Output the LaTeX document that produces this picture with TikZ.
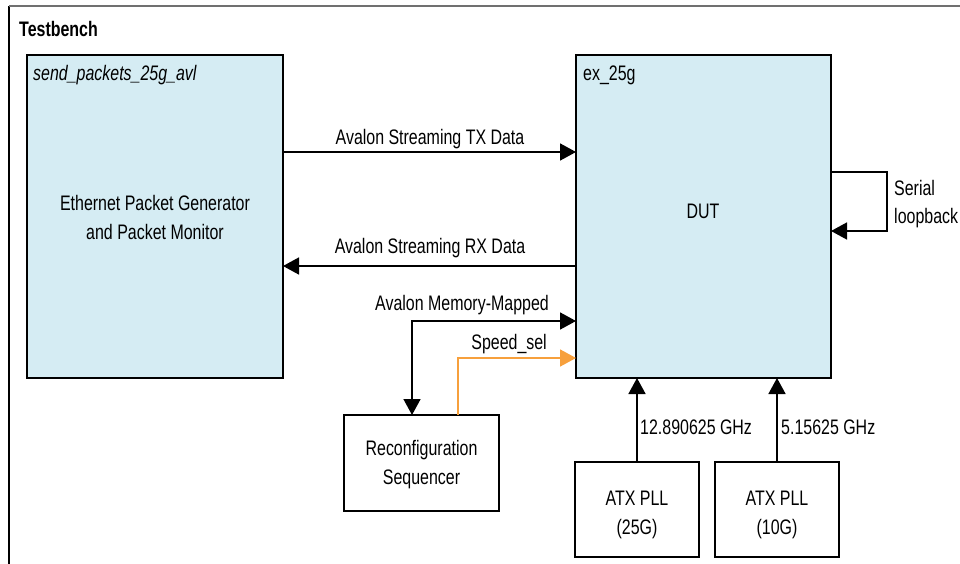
\documentclass[tikz,border=0pt]{standalone}
\usepackage{fontspec}
\setmainfont{Liberation Sans}[FakeStretch=0.76]
\usetikzlibrary{arrows.meta}
\definecolor{boxfill}{HTML}{D5ECF3}
\definecolor{selorange}{HTML}{F7A03C}
\definecolor{framegray}{HTML}{707070}
\newcommand\diafont{\fontsize{21}{29}\selectfont}
\begin{document}
\begin{tikzpicture}[x=1pt,y=-1pt,
 blockbox/.style={draw=black, line width=1.5pt, fill=boxfill, outer sep=0pt, inner sep=0pt, anchor=north west},
 plainbox/.style={draw=black, line width=1.3pt, fill=white, outer sep=0pt, inner sep=0pt, anchor=north west, align=center, font=\diafont},
 arr/.style={line width=1.6pt, -{Triangle[length=16pt,width=17pt]}},
 lbl/.style={font=\diafont, inner sep=0pt}
]
\useasboundingbox (0,0) rectangle (960,564);
% outer testbench frame
\coordinate (fbl) at (9,564);
\coordinate (ftl) at (9,6);
\coordinate (ftr) at (960,6);
\draw[line width=1.5pt, black] (fbl) -- (ftl);
\draw[line width=1.5pt, framegray] (ftl) -- (ftr);
\node[lbl, anchor=west, font=\bfseries\diafont] (tb) at (19,29) {Testbench};

% generator box
\node[blockbox, minimum width=256pt, minimum height=323pt] (gen) at (27,55) {};
\node[lbl, anchor=west, font=\itshape\diafont] (genname) at (33,75) {send\_packets\_25g\_avl};
\node[lbl, align=center] (gentext) at (155,217) {Ethernet Packet Generator\\and Packet Monitor};

% DUT box
\node[blockbox, minimum width=255pt, minimum height=323pt] (dut) at (576,55) {};
\node[lbl, anchor=west] (dutname) at (583,75) {ex\_25g};
\node[lbl] (duttext) at (703,211) {DUT};

% reconfiguration sequencer
\node[plainbox, minimum width=155pt, minimum height=96pt] (rc) at (344,415) {};
\node[lbl, align=center] (rctext) at ([yshift=-2pt]rc.center) {Reconfiguration\\Sequencer};

% ATX PLLs
\node[plainbox, minimum width=124pt, minimum height=95pt] (atxa) at (575,462) {};
\node[lbl, align=center] (atxatext) at ([yshift=-5pt]atxa.center) {ATX PLL\\(25G)};
\node[plainbox, minimum width=124pt, minimum height=95pt] (atxb) at (715,462) {};
\node[lbl, align=center] (atxbtext) at ([yshift=-5pt]atxb.center) {ATX PLL\\(10G)};

% streaming
\draw[arr] ([yshift=-97pt]gen.north east) -- ([yshift=-97pt]dut.north west);
\node[lbl] (txl) at (430,139) {Avalon Streaming TX Data};
\draw[arr] ([yshift=-211pt]dut.north west) -- ([yshift=-211pt]gen.north east);
\node[lbl] (rxl) at (430,248) {Avalon Streaming RX Data};

% memory mapped
\draw[line width=1.6pt, {Triangle[length=16pt,width=17pt]}-{Triangle[length=16pt,width=17pt]}]
  ([yshift=-266pt]dut.north west) -| ([xshift=68pt]rc.north west);
\node[lbl, anchor=east] (amml) at (549,305) {Avalon Memory-Mapped};

% speed_sel
\draw[arr, selorange] ([xshift=114pt]rc.north west) |- ([yshift=-303pt]dut.north west);
\node[lbl, anchor=east] (ssl) at (547,344) {Speed\_sel};

% PLL clocks
\draw[arr] (atxa.north) -- (atxa.north |- dut.south);
\node[lbl, anchor=west] (fa) at (640,427) {12.890625 GHz};
\draw[arr] (atxb.north) -- (atxb.north |- dut.south);
\node[lbl, anchor=west] (fb) at (781,427) {5.15625 GHz};

% serial loopback
\draw[arr] ([yshift=-117pt]dut.north east) -- ++(56,0) |- ([yshift=-176pt]dut.north east);
\node[lbl, anchor=west] (sl1) at (894,188) {Serial};
\node[lbl, anchor=west] (sl2) at (894,218) {loopback};
\end{tikzpicture}
\end{document}
